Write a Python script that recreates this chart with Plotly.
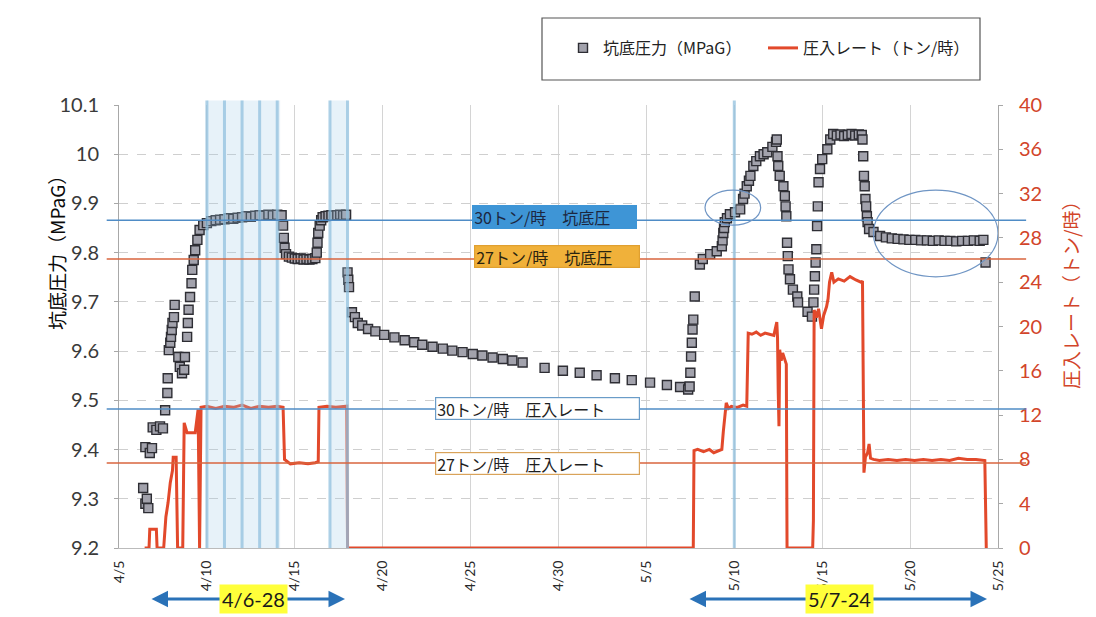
import plotly.graph_objects as go

YEAR = "2013"

# 坑底圧力 (MPaG) — time stamps (month-day hour) and readings
p_time = [
    "04-06 09:00", "04-06 12:00", "04-06 14:00", "04-06 16:00", "04-06 12:00", "04-06 18:00", "04-06 21:00",
    "04-06 22:00", "04-07 03:00", "04-07 08:00", "04-07 12:00", "04-07 15:00", "04-07 18:00", "04-07 18:30",
    "04-07 20:00", "04-07 22:00", "04-07 23:00", "04-08 00:00", "04-08 01:00", "04-08 03:00", "04-08 04:00",
    "04-08 09:00", "04-08 11:00", "04-08 14:00", "04-08 17:00", "04-08 18:00",
    "04-08 21:00", "04-08 22:00", "04-08 23:00", "04-09 01:00", "04-09 03:00", "04-09 04:00", "04-09 06:00",
    "04-09 08:00", "04-09 11:00", "04-09 14:00", "04-09 19:00", "04-10 00:00",
    "04-10 06:00", "04-10 12:00", "04-10 18:00", "04-11 00:00", "04-11 06:00", "04-11 12:00", "04-11 18:00",
    "04-12 00:00", "04-12 06:00", "04-12 12:00", "04-12 18:00", "04-13 00:00", "04-13 06:00", "04-13 12:00",
    "04-13 18:00", "04-14 00:00", "04-14 06:00",
    "04-14 08:00", "04-14 09:00", "04-14 10:00", "04-14 12:00",
    "04-14 16:00", "04-14 20:00", "04-15 00:00", "04-15 04:00", "04-15 08:00", "04-15 12:00", "04-15 16:00",
    "04-15 20:00", "04-16 00:00", "04-16 04:00",
    "04-16 06:00", "04-16 07:00", "04-16 08:00", "04-16 10:00", "04-16 12:00", "04-16 14:00",
    "04-16 18:00", "04-16 22:00", "04-17 02:00", "04-17 06:00", "04-17 10:00", "04-17 14:00", "04-17 18:00",
    "04-17 22:00",
    "04-18 00:00", "04-18 01:00", "04-18 02:00", "04-18 06:00", "04-18 10:00", "04-18 14:00",
    "04-18 20:00", "04-19 04:00", "04-19 14:00", "04-20 02:00", "04-20 16:00", "04-21 06:00", "04-21 19:00",
    "04-22 06:00", "04-22 20:00", "04-23 10:00", "04-23 23:00", "04-24 13:00", "04-25 03:00", "04-25 16:00",
    "04-26 06:00", "04-26 20:00", "04-27 09:00", "04-27 23:00", "04-29 05:00", "04-30 06:00", "05-01 05:00",
    "05-02 04:00", "05-03 05:00", "05-04 04:00", "05-05 05:00", "05-06 04:00", "05-06 22:00", "05-07 09:00",
    "05-07 11:00", "05-07 12:00", "05-07 13:00", "05-07 14:00", "05-07 15:00", "05-07 16:00", "05-07 18:00",
    "05-08 01:00", "05-08 05:00", "05-08 15:00", "05-09 00:00", "05-09 07:00", "05-09 08:00", "05-09 09:00",
    "05-09 10:00", "05-09 11:00", "05-09 14:00", "05-09 18:00", "05-10 01:00", "05-10 08:00", "05-10 12:00",
    "05-10 14:00", "05-10 17:00", "05-10 20:00", "05-10 22:00", "05-11 02:00", "05-11 06:00", "05-11 11:00",
    "05-11 16:00", "05-11 21:00", "05-12 04:00", "05-12 09:00", "05-12 10:00",
    "05-12 11:00", "05-12 12:00", "05-12 14:00", "05-12 19:00", "05-12 21:00", "05-12 22:00", "05-12 23:00",
    "05-13 00:00", "05-13 01:00", "05-13 02:00", "05-13 04:00", "05-13 08:00", "05-13 14:00", "05-13 15:00",
    "05-14 04:00", "05-14 10:00",
    "05-14 12:00", "05-14 13:00", "05-14 14:00", "05-14 15:00", "05-14 16:00", "05-14 17:00", "05-14 18:00",
    "05-14 19:00", "05-14 21:00", "05-15 00:00", "05-15 07:00", "05-15 11:00", "05-15 15:00",
    "05-15 20:00", "05-16 01:00", "05-16 06:00", "05-16 11:00", "05-16 16:00", "05-16 21:00", "05-17 02:00",
    "05-17 06:00",
    "05-17 07:00", "05-17 08:00", "05-17 09:00", "05-17 10:00", "05-17 11:00", "05-17 12:00", "05-17 13:00",
    "05-17 14:00", "05-17 16:00", "05-17 22:00", "05-18 07:00",
    "05-18 15:00", "05-18 23:00", "05-19 07:00", "05-19 15:00", "05-19 23:00", "05-20 07:00", "05-20 15:00",
    "05-20 23:00", "05-21 07:00", "05-21 15:00", "05-21 23:00", "05-22 07:00", "05-22 15:00", "05-22 23:00",
    "05-23 07:00", "05-23 15:00", "05-23 23:00", "05-24 04:00", "05-24 07:00",
]
p_val = [
    9.322, 9.29, 9.30, 9.281, 9.405, 9.393, 9.403,
    9.445, 9.44, 9.447, 9.443, 9.48, 9.515, 9.545,
    9.602, 9.617, 9.629, 9.643, 9.657, 9.669, 9.694,
    9.588, 9.568, 9.555, 9.562, 9.588,
    9.629, 9.657, 9.684, 9.71, 9.738, 9.765, 9.785,
    9.805, 9.826, 9.846, 9.856, 9.86,
    9.864, 9.866, 9.867, 9.868, 9.87, 9.869, 9.871,
    9.872, 9.874, 9.873, 9.875, 9.876, 9.875, 9.877,
    9.876, 9.877, 9.876,
    9.855, 9.83, 9.81, 9.797,
    9.792, 9.79, 9.788, 9.787, 9.788, 9.786, 9.787,
    9.786, 9.787, 9.789,
    9.80, 9.82, 9.84, 9.855, 9.866, 9.872,
    9.874, 9.875, 9.876, 9.875, 9.876, 9.877, 9.876,
    9.877,
    9.76, 9.745, 9.73, 9.679, 9.669, 9.657,
    9.652, 9.645, 9.64, 9.633, 9.628, 9.622, 9.618,
    9.613, 9.609, 9.605, 9.601, 9.598, 9.594, 9.591,
    9.587, 9.584, 9.581, 9.577, 9.566, 9.56, 9.556,
    9.551, 9.545, 9.541, 9.536, 9.531, 9.527, 9.522,
    9.528, 9.556, 9.589, 9.617, 9.644, 9.664, 9.711,
    9.776, 9.787, 9.797, 9.803, 9.813, 9.825, 9.84,
    9.85, 9.862, 9.87, 9.878, 9.882, 9.888, 9.909,
    9.92, 9.935, 9.946, 9.956, 9.976, 9.986, 9.996,
    10.0, 10.004, 10.015, 10.025, 10.03,
    9.996, 9.976, 9.956, 9.935, 9.915, 9.894, 9.874,
    9.82, 9.793, 9.766, 9.746, 9.725, 9.711, 9.699,
    9.68, 9.67,
    9.699, 9.725, 9.752, 9.78, 9.807, 9.854, 9.894,
    9.943, 9.97, 9.99, 10.01, 10.03, 10.041,
    10.038, 10.04, 10.037, 10.039, 10.041, 10.038, 10.04,
    10.039,
    10.03, 9.996, 9.956, 9.935, 9.909, 9.894, 9.874,
    9.862, 9.848, 9.842, 9.834,
    9.831, 9.829, 9.828, 9.827, 9.826, 9.826, 9.825,
    9.825, 9.824, 9.825, 9.824, 9.824, 9.823, 9.824,
    9.824, 9.825, 9.824, 9.826, 9.78,
]

# 圧入レート (トン/時)
r_time = [
    "04-06 11:00", "04-06 17:00", "04-06 18:00", "04-07 03:00", "04-07 04:00",
    "04-07 13:00", "04-07 16:00", "04-07 19:00", "04-07 22:00", "04-08 01:00", "04-08 02:00", "04-08 06:00",
    "04-08 08:00", "04-08 15:00", "04-08 17:00", "04-08 21:00", "04-09 08:00", "04-09 10:00", "04-09 12:00",
    "04-09 14:00", "04-09 16:00",
    "04-10 00:00", "04-10 12:00", "04-11 00:00", "04-11 12:00", "04-12 00:00", "04-12 12:00", "04-13 00:00",
    "04-13 12:00", "04-14 00:00", "04-14 08:00",
    "04-14 10:00", "04-14 18:00", "04-15 06:00", "04-15 18:00", "04-16 04:00", "04-16 08:00",
    "04-16 09:00", "04-16 20:00", "04-17 08:00", "04-17 23:00", "04-18 00:00",
    "05-07 16:00", "05-07 17:00", "05-07 22:00", "05-08 06:00", "05-08 14:00", "05-08 20:00", "05-09 04:00",
    "05-09 07:00", "05-09 09:00", "05-09 11:00", "05-09 13:00", "05-09 16:00", "05-09 20:00", "05-10 04:00",
    "05-10 12:00", "05-10 17:00", "05-10 18:00", "05-10 19:00",
    "05-11 00:00", "05-11 06:00", "05-11 12:00", "05-11 18:00", "05-12 00:00", "05-12 06:00", "05-12 10:00",
    "05-12 11:00", "05-12 12:00", "05-12 13:00", "05-12 14:00", "05-12 16:00", "05-12 18:00", "05-12 21:00",
    "05-12 23:00", "05-13 00:00",
    "05-14 11:00", "05-14 12:00", "05-14 13:00", "05-14 16:00", "05-14 19:00", "05-14 23:00", "05-15 02:00",
    "05-15 06:00", "05-15 08:00", "05-15 10:00", "05-15 13:00", "05-15 16:00", "05-15 22:00", "05-16 06:00",
    "05-16 14:00", "05-16 22:00", "05-17 05:00", "05-17 07:00",
    "05-17 09:00", "05-17 11:00", "05-17 14:00", "05-17 16:00", "05-17 18:00", "05-17 22:00", "05-18 06:00",
    "05-18 18:00", "05-19 06:00", "05-19 18:00", "05-20 06:00", "05-20 18:00", "05-21 06:00", "05-21 18:00",
    "05-22 06:00", "05-22 18:00", "05-23 06:00", "05-23 18:00", "05-24 06:00", "05-24 08:00",
]
r_val = [
    0, 0, 1.7, 1.7, 0,
    0, 2.8, 4.1, 5.9, 7.0, 8.2, 8.2,
    0, 0, 11.3, 10.4, 10.4, 11.3, 12.5,
    0, 12.7,
    12.8, 12.6, 12.8, 12.7, 12.9, 12.6, 12.8,
    12.7, 12.8, 12.7,
    8.0, 7.6, 7.7, 7.6, 7.7, 7.8,
    12.7, 12.8, 12.7, 12.8, 0,
    0, 8.8, 8.9, 8.7, 8.9, 8.6, 8.8,
    8.9, 10.5, 11.8, 13.1, 12.6, 12.8, 12.7,
    12.9, 12.8, 17.0, 19.4,
    19.3, 19.5, 19.2, 19.4, 19.3, 19.2, 20.4,
    19.0, 14.0, 11.0, 17.9, 16.9, 17.6, 17.0,
    16.6, 0,
    0, 2.5, 21.5, 20.8, 21.6, 19.8, 21.0,
    21.8, 22.5, 24.0, 24.9, 24.0, 24.3, 24.1,
    24.5, 24.2, 24.0, 24.1,
    6.8, 8.2, 8.6, 9.4, 8.1, 8.0, 7.9,
    8.0, 7.9, 8.0, 7.9, 8.0, 7.9, 8.0,
    7.9, 8.1, 8.0, 8.0, 7.9, 0,
]

# Axis ticks
x_tick_days = ["04-05", "04-10", "04-15", "04-20", "04-25", "04-30",
               "05-05", "05-10", "05-15", "05-20", "05-25"]
x_tick_text = ["4/5", "4/10", "4/15", "4/20", "4/25", "4/30",
               "5/5", "5/10", "5/15", "5/20", "5/25"]
p_tick_vals = [9.2, 9.3, 9.4, 9.5, 9.6, 9.7, 9.8, 9.9, 10.0, 10.1]
p_tick_text = ["9.2", "9.3", "9.4", "9.5", "9.6", "9.7", "9.8", "9.9", "10", "10.1"]
r_tick_vals = [0, 4, 8, 12, 16, 20, 24, 28, 32, 36, 40]

# Reference levels for 30 and 27 トン/時
p_ref_30, p_ref_27 = 9.866, 9.787
r_ref_30, r_ref_27 = 12.55, 7.67

# Highlighted days (blue guide lines)
band_days = ["04-10", "04-11", "04-12", "04-13", "04-14", "04-17", "04-18", "05-10"]
band_spans = [("04-10", "04-14 04:00"), ("04-17", "04-18")]


def ts(s):
    return f"{YEAR}-{s}"


P_MIN, P_MAX = 9.2, 10.1
R_MIN, R_MAX = 0, 40

# plot area in pixels
L, R, T, B = 119, 998, 105, 548
W, H = 1096, 617


def fx(px):
    return (px - L) / (R - L)


def fy(py):
    return (B - py) / (B - T)


RED = "#E2492B"
BLUE_REF = "#4F8CC6"
RED_REF = "#D8643E"
FONT = "Lato, Noto Sans CJK JP, sans-serif"
JP = "Noto Sans CJK JP, sans-serif"
SP = "\u3000"

fig = go.Figure()

fig.add_trace(go.Scatter(
    x=[ts(t) for t in p_time], y=p_val, mode="markers", name="坑底圧力（MPaG）",
    marker=dict(symbol="square", size=9, color="#A2A2AC",
                line=dict(color="#2E2E34", width=1.4)),
    yaxis="y",
))
fig.add_trace(go.Scatter(
    x=[ts(t) for t in r_time], y=r_val, mode="lines", name="圧入レート（トン/時）",
    line=dict(color=RED, width=3),
    yaxis="y2",
))

shapes = []
# light blue highlight bands
for a, b in band_spans:
    shapes.append(dict(type="rect", xref="x", yref="paper", x0=ts(a), x1=ts(b), y0=0, y1=1.01,
                       fillcolor="rgba(160,205,232,0.25)", line=dict(width=0), layer="above"))
for d in band_days:
    shapes.append(dict(type="line", xref="x", yref="paper", x0=ts(d), x1=ts(d), y0=0, y1=1.01,
                       line=dict(color="rgba(145,192,222,0.75)", width=3), layer="above"))

# reference level lines
def ref_line(frac, color):
    return dict(type="line", xref="paper", yref="paper", x0=-0.014, x1=1.032, y0=frac, y1=frac,
                line=dict(color=color, width=1.6), layer="above")

shapes.append(ref_line((p_ref_30 - P_MIN) / (P_MAX - P_MIN), BLUE_REF))
shapes.append(ref_line((p_ref_27 - P_MIN) / (P_MAX - P_MIN), RED_REF))
shapes.append(ref_line((r_ref_30 - R_MIN) / (R_MAX - R_MIN), BLUE_REF))
shapes.append(ref_line((r_ref_27 - R_MIN) / (R_MAX - R_MIN), RED_REF))

# ellipses around the matching periods
shapes.append(dict(type="circle", xref="x", yref="y", x0=ts("05-08 08:00"), x1=ts("05-11 12:00"),
                   y0=9.856, y1=9.927, line=dict(color="#6F95C4", width=1.2)))
shapes.append(dict(type="circle", xref="x", yref="y", x0=ts("05-17 22:00"), x1=ts("05-25 00:00"),
                   y0=9.751, y1=9.927, line=dict(color="#6F95C4", width=1.2)))

# legend frame
shapes.append(dict(type="rect", xref="paper", yref="paper", x0=fx(542), x1=fx(980), y0=fy(80), y1=fy(18),
                   line=dict(color="#555555", width=1.2), fillcolor="rgba(0,0,0,0)"))

annotations = []


def box(text, cx, cy, w, h, bg, border, color):
    return dict(text=text, xref="paper", yref="paper", x=fx(cx), y=fy(cy), showarrow=False,
                xanchor="center", yanchor="middle", width=w, height=h, align="left",
                bgcolor=bg, bordercolor=border, borderwidth=1.2, borderpad=1,
                font=dict(family=JP, size=16, color=color))


annotations.append(box("30トン/時" + SP + "坑底圧", 554.5, 216.5, 161, 20, "#3E95D6", "#3E95D6", "#1C2740"))
annotations.append(box("27トン/時" + SP + "坑底圧", 557, 256, 162, 19, "#F0B13A", "#E0A030", "#2A2410"))
annotations.append(box("30トン/時" + SP + "圧入レート", 537.5, 408, 201, 19, "white", "#6A9CC8", "#1E1E1E"))
annotations.append(box("27トン/時" + SP + "圧入レート", 537.5, 463.5, 201, 19, "white", "#D9A35A", "#1E1E1E"))

# axis titles
annotations.append(dict(text="坑底圧力（MPaG）", xref="paper", yref="paper", x=fx(56), y=fy(248),
                        showarrow=False, textangle=-90, xanchor="center", yanchor="middle",
                        font=dict(family=JP, size=19, color="#0A0A0A")))
annotations.append(dict(text="圧入レート（トン/時）", xref="paper", yref="paper", x=fx(1070), y=fy(291),
                        showarrow=False, textangle=-90, xanchor="center", yanchor="middle",
                        font=dict(family=JP, size=19, color="#D2452A")))

# period arrows below the axis
ARROW = "#2A72B8"
for x_start, x_end in [(150, 345), (688, 987)]:
    annotations.append(dict(text="", xref="paper", yref="paper", x=fx(x_end), y=fy(599),
                            ax=x_start - x_end, ay=0, axref="pixel", ayref="pixel",
                            showarrow=True, arrowhead=2, arrowside="end+start", arrowsize=1.1,
                            arrowwidth=3, arrowcolor=ARROW))
for label, cx in [("4/6-28", 253), ("5/7-24", 839)]:
    annotations.append(dict(text=label, xref="paper", yref="paper", x=fx(cx), y=fy(599),
                            showarrow=False, xanchor="center", yanchor="middle",
                            bgcolor="#FFFF3A", borderpad=2,
                            font=dict(family=FONT, size=20, color="#1A1A1A")))

fig.update_layout(
    width=W, height=H,
    margin=dict(l=L, r=W - R, t=T, b=H - B, pad=0),
    paper_bgcolor="white", plot_bgcolor="white",
    font=dict(family=FONT, color="#333333"),
    showlegend=True,
    legend=dict(orientation="h", x=fx(563), y=fy(48), xanchor="left", yanchor="middle",
                bgcolor="rgba(0,0,0,0)", borderwidth=0, entrywidth=155, itemwidth=30,
                font=dict(family=JP, size=16, color="#222222")),
    xaxis=dict(type="date", range=[ts("04-05"), ts("05-25")],
               tickvals=[ts(d) for d in x_tick_days], ticktext=x_tick_text, tickangle=-90,
               tickfont=dict(family=FONT, size=14, color="#2A2A2A"), ticklabelstandoff=6,
               showgrid=True, gridcolor="#D4D4D4", gridwidth=1,
               showline=True, linecolor="#BBBBBB", zeroline=False),
    yaxis=dict(range=[P_MIN, P_MAX], tickvals=p_tick_vals, ticktext=p_tick_text,
               tickfont=dict(family=FONT, size=20, color="#3A3A3A"),
               showgrid=True, gridcolor="#CFCFCF", griddash="dash", gridwidth=1,
               showline=True, linecolor="#A8A8A8", ticks="outside", ticklen=4, tickcolor="#A8A8A8",
               ticklabelstandoff=11, zeroline=False),
    yaxis2=dict(range=[R_MIN, R_MAX], tickvals=r_tick_vals, overlaying="y", side="right",
                tickfont=dict(family=FONT, size=20, color="#D2452A"),
                showgrid=False, showline=True, linecolor="#A8A8A8", ticks="outside", ticklen=4,
                tickcolor="#A8A8A8", ticklabelstandoff=12, zeroline=False),
    shapes=shapes,
    annotations=annotations,
)

fig.write_html("out.html")
